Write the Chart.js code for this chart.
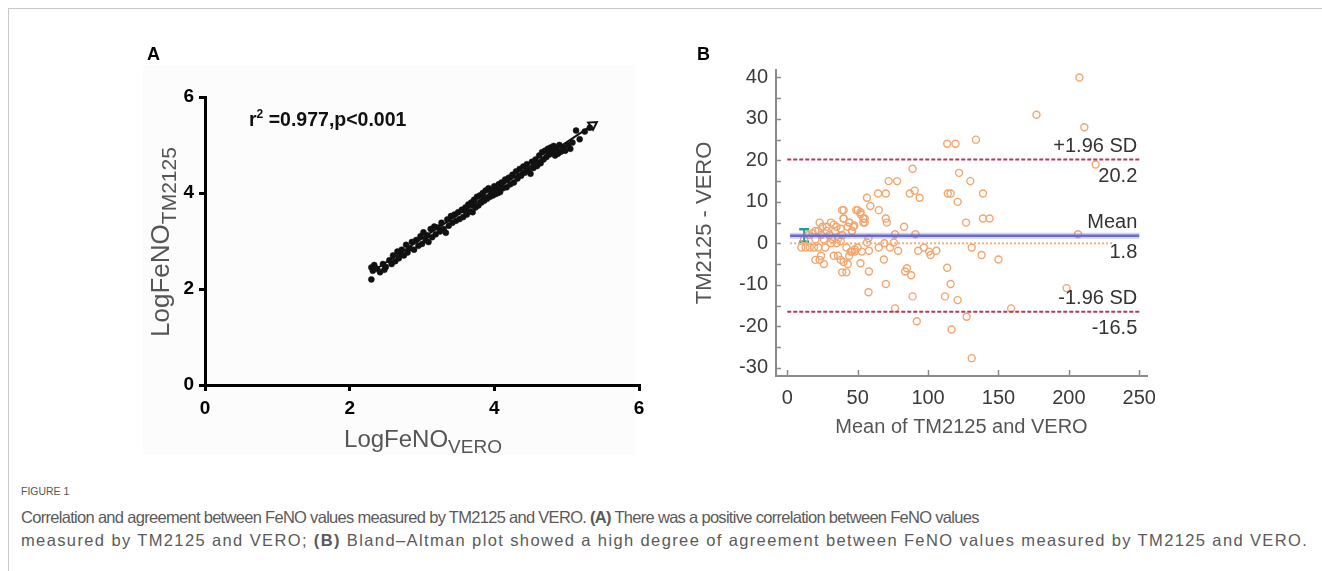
<!DOCTYPE html>
<html><head><meta charset="utf-8">
<script src="https://cdn.jsdelivr.net/npm/chart.js@4/dist/chart.umd.min.js"></script>
<style>
html,body{margin:0;padding:0;background:#fff;}
body{width:1322px;height:571px;position:relative;overflow:hidden;font-family:"Liberation Sans",Arial,sans-serif;}
#frame{position:absolute;left:8px;top:8px;width:1314px;height:563px;border-top:1px solid #c8c8c8;border-left:1px solid #c8c8c8;}
.abs{position:absolute;white-space:nowrap;}
#bgA{position:absolute;left:143px;top:65px;width:492px;height:390px;background:#fcfcfc;}
canvas{position:absolute;}
.plab{font-weight:bold;font-size:18px;color:#000;}
.atitle{font-size:24px;color:#555;}
.atitle sub{font-size:19px;vertical-align:-6px;}
#ytA{font-size:26px;}
#ytA sub{font-size:21px;vertical-align:-7px;}
#cap0{left:21px;top:485px;font-size:11px;color:#555;transform:scaleX(0.95);transform-origin:left center;}
.capl{left:21px;font-size:16.5px;line-height:23px;color:#5a5a5a;}
#cap1{top:506px;letter-spacing:-0.7px;}
#cap2{top:529px;letter-spacing:1.38px;}
</style></head>
<body>
<div id="frame"></div>
<div id="bgA"></div>
<canvas id="cA" width="540" height="430" style="left:130px;top:40px;"></canvas>
<canvas id="cB" width="560" height="420" style="left:680px;top:40px;"></canvas>
<div class="abs plab" style="left:147px;top:44px;">A</div>
<div class="abs plab" style="left:697px;top:44px;">B</div>
<div class="abs" style="left:249px;top:107px;font-weight:bold;font-size:19.5px;color:#111;">r<sup style="font-size:12px;vertical-align:8px;">2</sup> =0.977,p&lt;0.001</div>
<div class="abs atitle" id="ytA" style="left:163px;top:242px;transform:translate(-50%,-50%) rotate(-90deg);">LogFeNO<sub>TM2125</sub></div>
<div class="abs atitle" id="xtA" style="left:423px;top:441px;transform:translate(-50%,-50%);">LogFeNO<sub>VERO</sub></div>
<div class="abs" id="cap0">FIGURE 1</div>
<div class="abs capl" id="cap1">Correlation and agreement between FeNO values measured by TM2125 and VERO. <b>(A)</b> There was a positive correlation between FeNO values</div>
<div class="abs capl" id="cap2">measured by TM2125 and VERO; <b>(B)</b> Bland–Altman plot showed a high degree of agreement between FeNO values measured by TM2125 and VERO.</div>
<script>
// ---------- Panel A data (log FeNO) ----------
const logVero = [2.30,2.30,2.32,2.34,2.38,2.42,2.46,2.48,2.50,2.55,2.58,2.60,2.63,2.66,2.68,2.70,2.72,2.75,2.78,2.80,2.83,2.86,2.89,2.92,2.95,2.98,3.00,3.02,3.05,3.07,3.09,3.12,3.14,3.17,3.19,3.22,3.25,3.27,3.30,3.33,3.35,3.37,3.40,3.42,3.45,3.47,3.50,3.52,3.55,3.57,3.60,3.60,3.62,3.64,3.66,3.68,3.70,3.70,3.72,3.74,3.76,3.78,3.80,3.82,3.84,3.85,3.86,3.88,3.90,3.92,3.94,3.95,3.96,3.98,4.00,4.02,4.04,4.05,4.06,4.08,4.10,4.12,4.15,4.17,4.20,4.22,4.25,4.27,4.30,4.32,4.35,4.37,4.40,4.42,4.45,4.47,4.50,4.52,4.54,4.57,4.59,4.62,4.64,4.66,4.68,4.70,4.72,4.74,4.75,4.76,4.78,4.80,4.80,4.82,4.84,4.85,4.86,4.88,4.90,4.92,4.95,4.98,5.02,5.05,5.08,5.13,5.18,5.25,5.32];
const logTM = [2.20,2.45,2.38,2.50,2.42,2.35,2.52,2.40,2.46,2.60,2.52,2.70,2.58,2.78,2.64,2.75,2.82,2.70,2.92,2.76,2.85,2.98,2.82,3.02,2.90,3.10,2.94,3.18,3.02,3.12,2.98,3.25,3.08,3.30,3.14,3.28,3.20,3.38,3.25,3.17,3.45,3.32,3.52,3.38,3.55,3.42,3.60,3.46,3.65,3.50,3.70,3.62,3.55,3.76,3.62,3.80,3.60,3.74,3.86,3.70,3.92,3.74,3.95,3.80,4.00,3.92,3.84,4.05,3.88,4.10,3.92,4.06,4.02,3.95,4.14,3.98,4.08,4.00,4.18,4.02,4.22,4.10,4.28,4.12,4.32,4.18,4.38,4.22,4.45,4.30,4.50,4.36,4.55,4.42,4.60,4.48,4.40,4.65,4.52,4.70,4.56,4.78,4.62,4.85,4.70,4.88,4.75,4.92,4.85,4.80,4.95,4.84,4.90,4.98,4.78,4.88,4.92,4.82,5.00,4.86,4.95,4.88,5.00,4.92,5.05,5.30,5.12,5.28,5.36];
const fitLineX = [2.33, 5.36];
const fitLineY = [2.38, 5.42];
const ticksA = [0, 2, 4, 6];

// ---------- Panel B data (Bland-Altman) ----------
const baMean = [10,13,16,19,22,27,31,35,38,42,45,48,12,15,18,20,22,24,26,28,30,32,34,36,39,20,23,25,28,31,33,35,38,43,46,39,40,44,47,50,52,55,55,20,23,26,24,33,36,38,40,39,42,43,44,46,48,50,53,
  207.5,177,211,134,113.6,119.5,219,89,72,78,130,122,64.5,70,87,90.5,94,114,116,139,121,56.6,59,65,49,52,40,127,139,143.7,83,70,70.7,54,54,40,44,47.5,46,206.5,91,76.5,75.7,69,73,78.7,65,58,56.6,57.7,131,93,97,100.7,105.9,101.8,138,150,68.6,52,58,85,83.7,88,113.6,116,70,57.7,89,112,121,198.4,76.5,159,127.4,92,116.7,131];
const baDiff = [-1,-1,-1,-1,-1,-1,0,0,0.5,-1,-2,-1.5,1,2,2.5,1,3,2,1,3,2,1,3,1,2,3,5,4,4,5,4.5,4,3.5,4,3,8,6,5,4,8,7,5,6,-4,-4,-5,-3,-3,-3,-4,-4.5,-7,-7,-5,-3,-2,-2,-1,-2,
  40,31,28,25,24,24,19,18,15,15,15,17,12,12,12,12.7,11,12,12,12,10,11,9,8,8,7.5,8,5,6,6,4,6,5,5,6,6,5,4.3,3,2.2,2.2,2.2,0.2,0,-1,-1.8,-1,-1.8,0.2,1.2,-1,-1.8,-1,-2,-1.8,-2.8,-2.8,-3.9,-3.9,-4.8,-6.8,-6,-6.8,-7.7,-5.9,-9.8,-9.8,-11.8,-12.8,-12.8,-13.7,-10.8,-15.7,-15.7,-17.7,-18.8,-20.8,-27.7];
const limitValues = [20.2, 1.8, -16.5];
const limitNames = ["+1.96 SD", "Mean", "-1.96 SD"];
const limitLabels = ["20.2", "1.8", "-16.5"];
const limitXRange = [0, 250];
const meanXRange = [2, 250];
const zeroXRange = [2, 231];
const ciX = 12;
const ciY = [0.4, 3.4];
const ticksBx = [0, 50, 100, 150, 200, 250];
const ticksBy = [-30, -20, -10, 0, 10, 20, 30, 40];
const minorBy = [-30,-25,-20,-15,-10,-5,0,5,10,15,20,25,30,35,40];

// ---------- Chart A ----------
const ptsA = logVero.map((x,i)=>({x:x, y:logTM[i]}));
const fitA = fitLineX.map((x,i)=>({x:x, y:fitLineY[i]}));
const arrowAngle = 90 - Math.atan2((fitLineY[1]-fitLineY[0])*48, (fitLineX[1]-fitLineX[0])*72.3)*180/Math.PI;
new Chart(document.getElementById('cA'), {
  type: 'scatter',
  data: { datasets: [
    { data: ptsA, pointRadius: 3, pointBackgroundColor: '#111', pointBorderColor: '#111', pointBorderWidth: 0.5 },
    { type: 'line', data: fitA, borderColor: '#111', borderWidth: 2, pointStyle: 'triangle',
      pointRadius: [0, 5], pointRotation: [0, arrowAngle], pointBackgroundColor: '#fff', pointBorderColor: '#111', pointBorderWidth: 2 }
  ]},
  options: {
    responsive: false, animation: false, devicePixelRatio: 1,
    layout: { padding: { top: 57, right: 31, left: 0, bottom: 0 } },
    plugins: { legend: { display: false }, tooltip: { enabled: false } },
    scales: {
      x: { type: 'linear', min: 0, max: 6,
        afterFit: s => { s.height = 85; },
        afterBuildTicks: s => { s.ticks = ticksA.map(v => ({value: v})); },
        grid: { drawOnChartArea: false, drawTicks: true, tickLength: 6, color: '#000', lineWidth: 3 },
        border: { color: '#000', width: 3 },
        ticks: { color: '#000', padding: 6, font: { family: 'Liberation Sans', size: 19, weight: 'bold' } } },
      y: { type: 'linear', min: 0, max: 6,
        afterFit: s => { s.width = 75; },
        afterBuildTicks: s => { s.ticks = ticksA.map(v => ({value: v})); },
        grid: { drawOnChartArea: false, drawTicks: true, tickLength: 6, color: '#000', lineWidth: 3 },
        border: { color: '#000', width: 3 },
        ticks: { color: '#000', padding: 5, font: { family: 'Liberation Sans', size: 19, weight: 'bold' } } }
    }
  }
});

// ---------- Chart B ----------
const ptsB = baMean.map((x,i)=>({x:x, y:baDiff[i]}));
const innerTicks = {
  id: 'innerTicks',
  afterDraw(chart) {
    const ctx = chart.ctx, xs = chart.scales.x, ys = chart.scales.y;
    ctx.save();
    ctx.strokeStyle = '#8a8a8a'; ctx.lineWidth = 1.5;
    minorBy.forEach(v => { const y = Math.round(ys.getPixelForValue(v)) + 0.5;
      ctx.beginPath(); ctx.moveTo(xs.left, y); ctx.lineTo(xs.left + 5, y); ctx.stroke(); });
    ticksBx.forEach(v => { const x = Math.round(xs.getPixelForValue(v)) + 0.5;
      ctx.beginPath(); ctx.moveTo(x, ys.bottom); ctx.lineTo(x, ys.bottom - 6); ctx.stroke(); });
    ctx.restore();
  }
};
const limitText = {
  id: 'limitText',
  afterDatasetsDraw(chart) {
    const ctx = chart.ctx, xs = chart.scales.x, ys = chart.scales.y;
    const xr = xs.getPixelForValue(limitXRange[1]) - 2;
    ctx.save();
    ctx.fillStyle = '#333'; ctx.textAlign = 'right';
    ctx.font = '20px "Liberation Sans", Arial, sans-serif';
    limitValues.forEach((v,i) => {
      const y = ys.getPixelForValue(v);
      ctx.textBaseline = 'middle';
      ctx.fillText(limitNames[i], xr, y - 13);
      ctx.fillText(limitLabels[i], xr, y + 17);
    });
    ctx.restore();
  }
};
const hline = (x0, x1, v) => [{x:x0, y:v}, {x:x1, y:v}];
new Chart(document.getElementById('cB'), {
  type: 'scatter',
  data: { datasets: [
    { type: 'line', data: hline(zeroXRange[0], zeroXRange[1], 0), borderColor: '#f6ae74', borderWidth: 2, borderDash: [2,2], pointRadius: 0 },
    { type: 'line', data: hline(meanXRange[0], meanXRange[1], limitValues[1]), borderColor: 'rgba(120,120,220,0.35)', borderWidth: 6, pointRadius: 0 },
    { type: 'line', data: hline(meanXRange[0], meanXRange[1], limitValues[1]), borderColor: '#6464c4', borderWidth: 2.5, pointRadius: 0 },
    { type: 'line', data: hline(limitXRange[0], limitXRange[1], limitValues[0]), borderColor: '#b13a5c', borderWidth: 2, borderDash: [4,2], pointRadius: 0 },
    { type: 'line', data: hline(limitXRange[0], limitXRange[1], limitValues[2]), borderColor: '#b13a5c', borderWidth: 2, borderDash: [4,2], pointRadius: 0 },
    { data: ptsB, pointRadius: 3.5, pointBackgroundColor: 'rgba(0,0,0,0)', pointBorderColor: '#f4a56c', pointBorderWidth: 1.4 },
    { type: 'line', data: [{x:ciX, y:ciY[0]}, {x:ciX, y:ciY[1]}], borderColor: '#2a9a88', borderWidth: 2,
      pointStyle: 'line', pointRadius: 5, pointBorderColor: '#2a9a88', pointBorderWidth: 2.5 }
  ]},
  options: {
    responsive: false, animation: false, devicePixelRatio: 1,
    layout: { padding: { top: 30, right: 93, left: 0, bottom: 0 } },
    plugins: { legend: { display: false }, tooltip: { enabled: false } },
    scales: {
      x: { type: 'linear', min: -8, max: 255.5,
        afterFit: s => { s.height = 84; },
        afterBuildTicks: s => { s.ticks = ticksBx.map(v => ({value: v})); },
        grid: { drawOnChartArea: false, drawTicks: false },
        border: { color: '#8a8a8a', width: 2 },
        ticks: { color: '#3a3a3a', padding: 10, font: { family: 'Liberation Sans', size: 20 } },
        title: { display: true, text: 'Mean of TM2125 and VERO', color: '#555', font: { family: 'Liberation Sans', size: 20 }, padding: { top: 0, bottom: 21 } } },
      y: { type: 'linear', min: -32, max: 41.8,
        afterFit: s => { s.width = 96; },
        afterBuildTicks: s => { s.ticks = ticksBy.map(v => ({value: v})); },
        grid: { drawOnChartArea: false, drawTicks: false },
        border: { color: '#8a8a8a', width: 2 },
        ticks: { color: '#3a3a3a', padding: 8, font: { family: 'Liberation Sans', size: 20 } },
        title: { display: true, text: 'TM2125 - VERO', color: '#555', font: { family: 'Liberation Sans', size: 22 }, padding: { top: 12, bottom: 0 } } }
    }
  },
  plugins: [innerTicks, limitText]
});
</script>
</body></html>
